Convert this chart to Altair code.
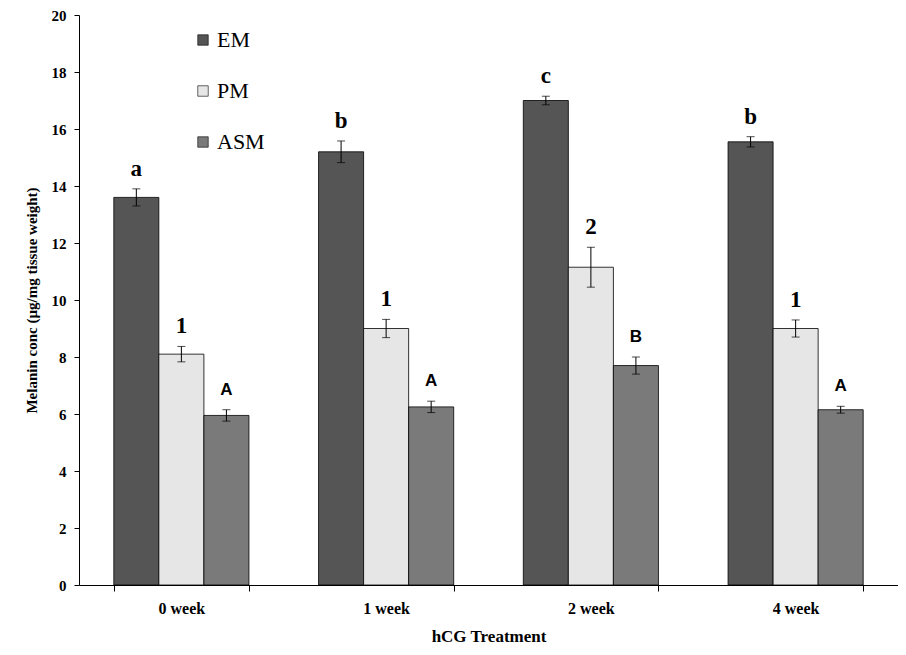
import altair as alt
import pandas as pd

weeks = ["0 week", "1 week", "2 week", "4 week"]
series = ["EM", "PM", "ASM"]
em = [13.6, 15.2, 17.0, 15.55]
em_err = [0.3, 0.38, 0.15, 0.18]
pm = [8.1, 9.0, 11.15, 9.0]
pm_err = [0.27, 0.32, 0.7, 0.3]
asm = [5.95, 6.25, 7.7, 6.15]
asm_err = [0.2, 0.2, 0.3, 0.12]
em_lbl = ["a", "b", "c", "b"]
pm_lbl = ["1", "1", "2", "1"]
asm_lbl = ["A", "A", "B", "A"]
colors = ["#555555", "#e6e6e6", "#7a7a7a"]

rows = []
for s, vals, errs, lbls in [("EM", em, em_err, em_lbl), ("PM", pm, pm_err, pm_lbl), ("ASM", asm, asm_err, asm_lbl)]:
    for w, v, e, l in zip(weeks, vals, errs, lbls):
        rows.append({"week": w, "series": s, "value": v, "lo": v - e, "hi": v + e, "lbl": l})
df = pd.DataFrame(rows)

x = alt.X("week:N", sort=weeks, title="hCG Treatment",
          scale=alt.Scale(paddingInner=0.34, paddingOuter=0.17),
          axis=alt.Axis(labelAngle=0, tickBand="extent", labelFont="Liberation Serif",
                        labelFontWeight="bold", labelFontSize=16, labelPadding=9,
                        titleFont="Liberation Serif", titleFontSize=17, titleFontWeight="bold",
                        titlePadding=12, domainColor="black", tickColor="black", tickSize=6,
                        labelColor="black", titleColor="black"))
xo = alt.XOffset("series:N", sort=series, scale=alt.Scale(paddingInner=0, paddingOuter=0))

base = alt.Chart(df)

bars = base.mark_bar(stroke="black", strokeWidth=0.8).encode(
    x=x, xOffset=xo,
    y=alt.Y("value:Q", title="Melanin conc (µg/mg tissue weight)",
            scale=alt.Scale(domain=[0, 20]),
            axis=alt.Axis(values=list(range(0, 21, 2)), grid=False, labelFont="Liberation Serif",
                          labelFontWeight="bold", labelFontSize=15, labelColor="black",
                          titleFont="Liberation Serif", titleFontSize=15, titleFontWeight="bold",
                          titleColor="black", domainColor="black", tickColor="black", tickSize=5,
                          labelPadding=8, titlePadding=12)),
    color=alt.Color("series:N", sort=series, scale=alt.Scale(domain=series, range=colors),
                    legend=alt.Legend(title=None, orient="none", legendX=113, legendY=14,
                                      symbolType="square", symbolSize=110, symbolStrokeColor="black",
                                      symbolStrokeWidth=0.6, labelFont="Liberation Serif",
                                      labelFontSize=22, labelColor="black", rowPadding=29,
                                      labelOffset=3, symbolOpacity=1)),
)

rules = base.mark_rule(color="black", strokeWidth=1).encode(
    x=x, xOffset=xo, y="lo:Q", y2="hi:Q")
caps_hi = base.mark_tick(color="black", orient="horizontal", size=8, thickness=1).encode(
    x=x, xOffset=xo, y="hi:Q")
caps_lo = base.mark_tick(color="black", orient="horizontal", size=8, thickness=1).encode(
    x=x, xOffset=xo, y="lo:Q")

txt_serif = base.transform_filter(alt.datum.series != "ASM").mark_text(
    font="Liberation Serif", fontWeight="bold", fontSize=23, dy=-20, color="black",
    baseline="middle").encode(x=x, xOffset=xo, y="hi:Q", text="lbl:N")
txt_sans = base.transform_filter(alt.datum.series == "ASM").mark_text(
    font="Liberation Sans", fontWeight="bold", fontSize=17, dy=-20, color="black",
    baseline="middle").encode(x=x, xOffset=xo, y="hi:Q", text="lbl:N")

chart = alt.layer(bars, rules, caps_hi, caps_lo, txt_serif, txt_sans).properties(
    width=819, height=570,
    autosize=alt.AutoSizeParams(type="none"),
    padding={"left": 71, "top": 7, "right": 0, "bottom": 62},
).configure_view(stroke=None)

chart.save("out.html", embed_options={"renderer": "svg", "actions": False})
